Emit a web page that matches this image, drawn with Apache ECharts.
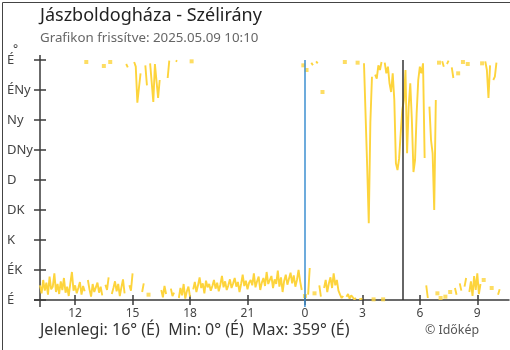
<!DOCTYPE html>
<html>
<head>
<meta charset="utf-8">
<script src="https://cdn.jsdelivr.net/npm/echarts@6/dist/echarts.min.js"></script>
<style>
html, body { margin: 0; padding: 0; background: #fff; }
#chart { width: 510px; height: 350px; }
</style>
</head>
<body>
<div id="chart"></div>
<script>
// Szélirány (fok), 5 percenként 10:10-től másnap 10:10-ig
const startHour = 10 + 10 / 60;
const stepHour = 5 / 60;
const directions = [
    22, 10, 30, 14, 26, 8, 35, 16, 20, 40, 12, 24,          // 10:10
    9, 28, 15, 33, 11, 20, 6, 25, 42, 14, 22, 10,           // 11:10
    18, 27, 8, 21, 13, 357, 30, 16, 5, 24, 12, 19,          // 12:10
    26, 11, 20, 7, 351, 23, 15, 34, 357, 9, 18, 28,         // 13:10
    13, 24, 6, 19, 31, 10, 354, 349, 22, 14, 40, 357,       // 14:10
    350, 296, 318, 340, 12, 25, 352, 322, 8, 355, 356, 297, // 15:10
    354, 357, 303, 330, 15, 4, 21, 9, 333, 359, 17, 6,      // 16:10
    11, 359, 358, 3, 18, 7, 24, 2, 13, 20, 5, 358,          // 17:10
    16, 27, 12, 22, 34, 18, 25, 10, 29, 19, 24, 14,         // 18:10
    21, 30, 17, 26, 13, 23, 36, 19, 28, 15, 22, 31,         // 19:10
    18, 25, 33, 20, 27, 12, 24, 38, 21, 29, 16, 26,         // 20:10
    30, 22, 40, 19, 28, 35, 15, 26, 33, 21, 42, 24,         // 21:10
    27, 36, 18, 31, 24, 44, 20, 34, 12, 29, 38, 23,         // 22:10
    32, 41, 25, 37, 20, 30, 45, 28, 15, 352, 6, 345,        // 23:10
    8, 48, 356, 352, 10, 358, 355, 22, 5, 312, 18, 30,      // 0:10
    12, 25, 34, 18, 40, 22, 30, 14, 8, 3, 6, 357,           // 1:10
    5, 9, 2, 7, 4, 1, 3, 356, 1, 4, 2, 355,                 // 2:10
    358, 200, 115, 267, 335, 1, 338, 332, 352, 345, 357, 1, // 3:10
    356, 340, 350, 325, 312, 340, 300, 205, 195, 212, 250, 285, // 4:10
    300, 345, 220, 290, 325, 270, 192, 210, 280, 330, 350, 340, // 5:10
    355, 213, 22, 3, 290, 240, 220, 135, 300, 10, 356, 3,   // 6:10
    358, 350, 5, 354, 359, 12, 349, 333, 18, 8, 340, 25,    // 7:10
    14, 357, 20, 33, 354, 12, 28, 6, 36, 15, 40, 9,         // 8:10
    24, 355, 30, 358, 345, 303, 352, 18, 330, 335, 356, 8,  // 9:10
    16                                                      // 10:10
];
const dirLabels = ['É', 'ÉK', 'K', 'DK', 'D', 'DNy', 'Ny', 'ÉNy', 'É'];
const hourTicks = [12, 15, 18, 21, 24, 27, 30, 33];
const midnightHour = 24;
const markerHour = 29.13;

const chart = echarts.init(document.getElementById('chart'));
const yellow = '#fdd43c';
const axisColor = '#3a3a3a';
const font = '"Noto Sans", sans-serif';

// vonal megszakítása, ha az irány átfordul 0/360 fokon
const jump = (a, b) => Math.abs(a - b) > 180;
const lineData = [];
const lonePoints = [];
directions.forEach((v, i) => {
    const t = startHour + i * stepHour;
    if (i > 0 && jump(v, directions[i - 1])) lineData.push([t - stepHour / 2, '-']);
    lineData.push([t, v]);
    const prevBreak = i === 0 || jump(v, directions[i - 1]);
    const nextBreak = i === directions.length - 1 || jump(v, directions[i + 1]);
    if (prevBreak && nextBreak) lonePoints.push([t, v]);
});

const xBase = {
    type: 'value',
    min: startHour,
    max: 34.655,
    position: 'bottom',
    splitLine: { show: false }
};
const yBase = {
    type: 'value',
    min: 0,
    max: 360,
    interval: 45,
    position: 'left',
    splitLine: { show: false }
};

const option = {
    animation: false,
    backgroundColor: '#fff',
    grid: { left: 40, top: 60, right: 1, bottom: 50 },
    xAxis: [
        Object.assign({}, xBase, {
            axisLine: { lineStyle: { color: axisColor, width: 1.5 } },
            axisTick: { customValues: hourTicks, length: 5, lineStyle: { color: axisColor, width: 1.5 } },
            axisLabel: {
                customValues: hourTicks,
                formatter: v => String(Math.round(v) % 24),
                color: '#444', fontSize: 12, fontFamily: font, margin: 8
            }
        }),
        Object.assign({}, xBase, {
            axisLine: { show: false },
            axisTick: { customValues: hourTicks, inside: true, length: 5, lineStyle: { color: axisColor, width: 1.5 } },
            axisLabel: { show: false }
        })
    ],
    yAxis: [
        Object.assign({}, yBase, {
            axisLine: { show: true, lineStyle: { color: axisColor, width: 1.5 } },
            axisTick: { show: true, length: 6, lineStyle: { color: axisColor, width: 1.5 } },
            axisLabel: {
                formatter: v => dirLabels[Math.round(v / 45)],
                align: 'left', margin: 33,
                color: '#444', fontSize: 13, fontFamily: font
            }
        }),
        Object.assign({}, yBase, {
            axisLine: { show: false },
            axisTick: { show: true, inside: true, length: 6, lineStyle: { color: axisColor, width: 1.5 } },
            axisLabel: { show: false }
        })
    ],
    series: [
        {
            type: 'line',
            data: lineData,
            showSymbol: false,
            connectNulls: false,
            lineStyle: { color: yellow, width: 1.9 },
            itemStyle: { color: yellow },
            markLine: {
                silent: true,
                symbol: 'none',
                label: { show: false },
                data: [
                    { xAxis: midnightHour, lineStyle: { color: '#3d8fd1', width: 1.5, type: 'solid' } },
                    { xAxis: markerHour, lineStyle: { color: '#333', width: 1.5, type: 'solid' } }
                ]
            }
        },
        {
            type: 'scatter',
            data: lonePoints,
            symbol: 'rect',
            symbolSize: 4,
            itemStyle: { color: yellow }
        }
    ],
    graphic: [
        { id: 'title', type: 'text', left: 40, top: 7, style: { text: 'Jászboldogháza - Szélirány', font: '18px ' + font, fill: '#222' } },
        { id: 'sub', type: 'text', left: 40, top: 32, style: { text: 'Grafikon frissítve: 2025.05.09 10:10', font: '13.3px ' + font, fill: '#666' } },
        { id: 'deg', type: 'text', left: 13, top: 44, style: { text: '°', font: '12px ' + font, fill: '#444' } },
        { id: 'foot', type: 'text', left: 40, top: 322, style: { text: 'Jelenlegi: 16° (É)  Min: 0° (É)  Max: 359° (É)', font: '16px ' + font, fill: '#333' } },
        { id: 'copy', type: 'text', left: 425, top: 324, style: { text: '© Időkép', font: '12.4px ' + font, fill: '#555' } },
        { id: 'frame', type: 'rect', left: 0, top: 0, shape: { width: 509, height: 349 }, style: { fill: 'none', stroke: '#444', lineWidth: 1 }, z: 100 }
    ]
};

chart.setOption(option);

// tengelyvonalak rövid túlnyúlása, mint a mintán
const x0 = chart.convertToPixel({ xAxisIndex: 0 }, startHour);
const y0 = chart.convertToPixel({ yAxisIndex: 0 }, 0);
const yTop = chart.convertToPixel({ yAxisIndex: 0 }, 360);
const xMid = chart.convertToPixel({ xAxisIndex: 0 }, midnightHour);
const stub = (id, x1, y1, x2, y2, color) => ({
    id, type: 'line', shape: { x1, y1, x2, y2 },
    style: { stroke: color, lineWidth: 1.5 }, z: 50
});
chart.setOption({
    graphic: option.graphic.concat([
        stub('s1', x0, yTop - 5, x0, yTop, axisColor),
        stub('s2', x0, y0, x0, y0 + 7, axisColor),
        stub('s3', x0 - 6, y0, x0, y0, axisColor),
        stub('s4', xMid, y0, xMid, y0 + 7, '#3d8fd1')
    ])
});
</script>
